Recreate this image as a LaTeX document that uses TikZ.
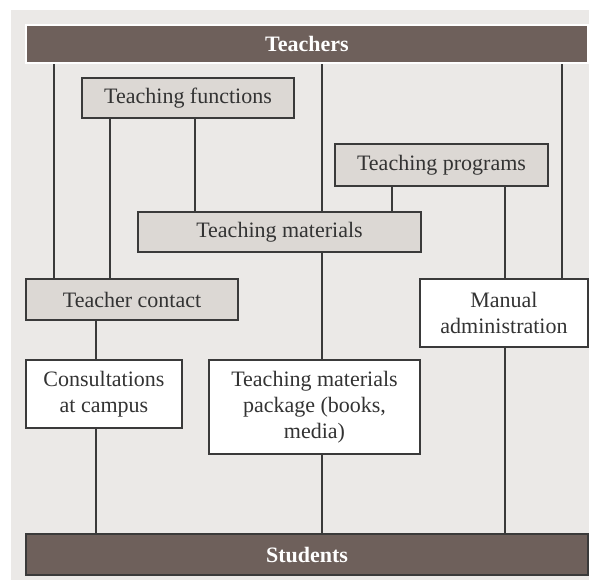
\documentclass[tikz,border=0pt]{standalone}
\usepackage{fontspec}
\setmainfont{Liberation Serif}
\definecolor{bgc}{HTML}{EBE9E7}
\definecolor{barc}{HTML}{6E605B}
\definecolor{boxc}{HTML}{DCD8D4}
\definecolor{linec}{HTML}{3A3A3A}
\definecolor{txt}{HTML}{333333}
\pgfdeclarelayer{back}
\pgfdeclarelayer{bottom}
\pgfsetlayers{bottom,back,main}
\begin{document}
\begin{tikzpicture}[x=1pt,y=-1pt,
  every node/.style={font=\fontsize{22}{26}\selectfont, text=txt, inner sep=0pt, outer sep=0pt, align=center},
  bar/.style={fill=barc, text=white, font=\fontsize{22}{26}\selectfont\bfseries, line width=1.5pt},
  gbox/.style={draw=linec, line width=1.6pt, fill=boxc},
  wbox/.style={draw=linec, line width=1.6pt, fill=white},
  conn/.style={draw=linec, line width=1.6pt}]
\useasboundingbox (0,0) rectangle (589,582);
\begin{pgfonlayer}{bottom}
\fill[bgc] (11,10) rectangle (589,580);
\end{pgfonlayer}
% bars
\node[bar, draw=white, minimum width=562pt, minimum height=38pt] (teachers) at (307,44) {Teachers};
\node[bar, draw=linec, minimum width=562pt, minimum height=41pt] (students) at (307,554.5) {Students};
% boxes
\node[gbox, minimum width=212pt, minimum height=40pt] (functions) at (188,98) {Teaching functions};
\node[gbox, minimum width=213pt, minimum height=42pt] (programs) at (441.5,165) {Teaching programs};
\node[gbox, minimum width=283pt, minimum height=40pt] (materials) at (279.5,232) {Teaching materials};
\node[gbox, minimum width=212pt, minimum height=41pt] (contact) at (132,299.5) {Teacher contact};
\node[wbox, minimum width=168pt, minimum height=68pt] (manual) at (504,313) {Manual\\administration};
\node[wbox, minimum width=156pt, minimum height=68pt] (consult) at (104,394) {Consultations\\at campus};
\node[wbox, minimum width=211pt, minimum height=94pt] (package) at (314.5,407) {Teaching materials\\package (books,\\media)};
% columns
\coordinate (c54) at (54,0);
\coordinate (c96) at (96,0);
\coordinate (c110) at (110,0);
\coordinate (c195) at (195,0);
\coordinate (c322) at (322,0);
\coordinate (c392) at (392,0);
\coordinate (c505) at (505,0);
\coordinate (c562) at (562,0);
\begin{pgfonlayer}{back}
\draw[conn] (teachers.south -| c54) -- (contact.north -| c54);
\draw[conn] (functions.south -| c110) -- (contact.north -| c110);
\draw[conn] (functions.south -| c195) -- (materials.north -| c195);
\draw[conn] (teachers.south -| c322) -- (materials.north -| c322);
\draw[conn] (materials.south -| c322) -- (package.north -| c322);
\draw[conn] (programs.south -| c392) -- (materials.north -| c392);
\draw[conn] (programs.south -| c505) -- (manual.north -| c505);
\draw[conn] (teachers.south -| c562) -- (manual.north -| c562);
\draw[conn] (contact.south -| c96) -- (consult.north -| c96);
\draw[conn] (consult.south -| c96) -- (students.north -| c96);
\draw[conn] (package.south -| c322) -- (students.north -| c322);
\draw[conn] (manual.south -| c505) -- (students.north -| c505);
\end{pgfonlayer}
\end{tikzpicture}
\end{document}
